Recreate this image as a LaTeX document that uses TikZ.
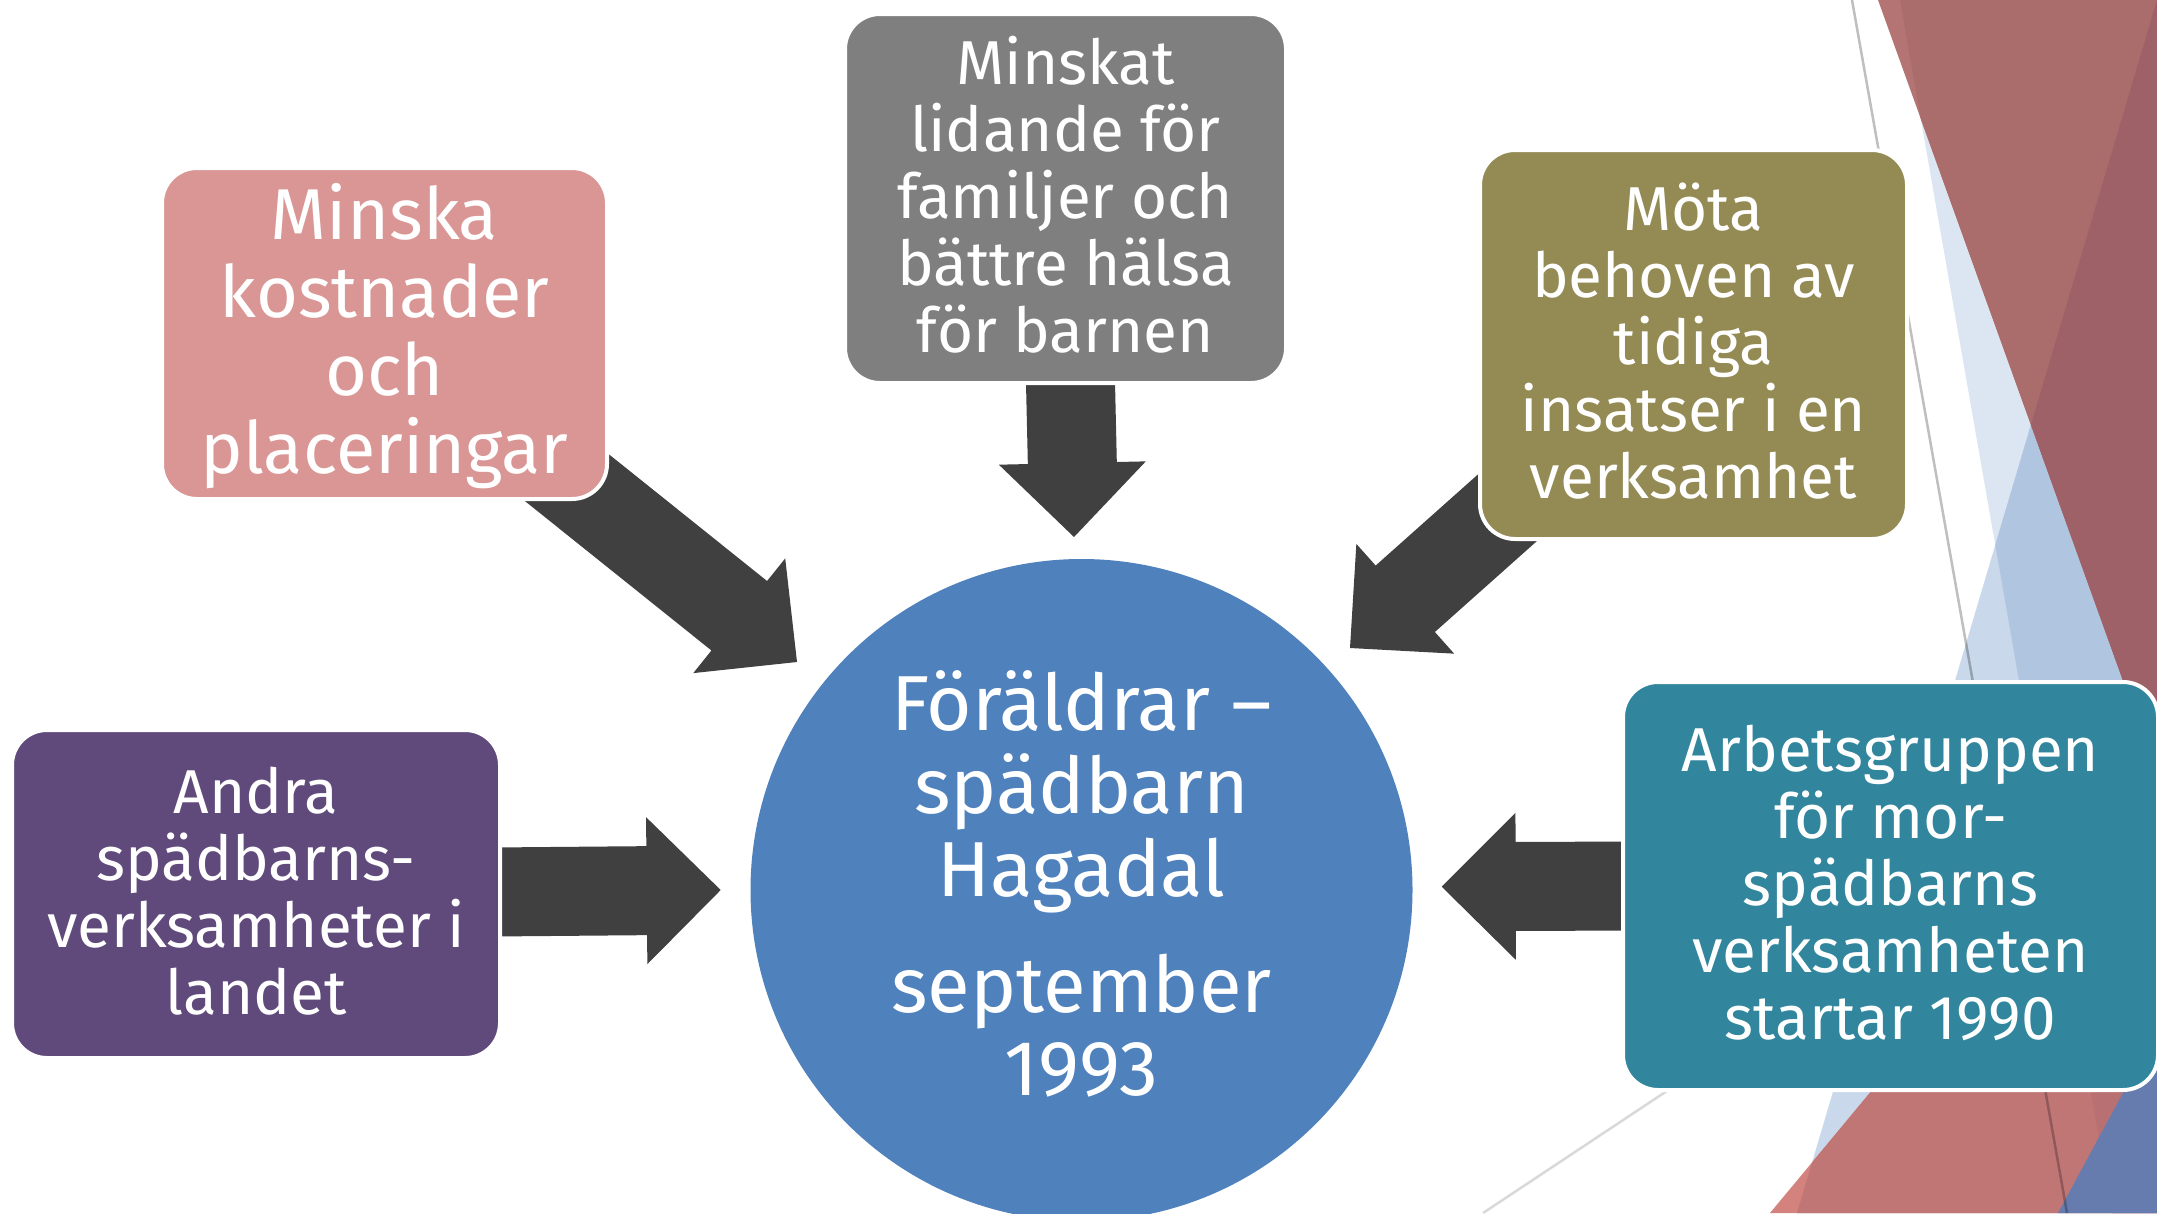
\documentclass[tikz,border=0pt]{standalone}
\usepackage{fontspec}
\setmainfont{Fira Sans}
\definecolor{pinkc}{HTML}{D99694}
\definecolor{grayc}{HTML}{7F7F7F}
\definecolor{olivec}{HTML}{948A54}
\definecolor{purplec}{HTML}{604A7B}
\definecolor{tealc}{HTML}{31859C}
\definecolor{circc}{HTML}{4F81BD}
\definecolor{arrowc}{HTML}{404040}
\definecolor{lbA}{HTML}{DCE6F2}
\definecolor{lbB}{HTML}{C9D8EB}
\definecolor{lbAB}{HTML}{B0C5E0}
\definecolor{rW}{HTML}{B47474}
\definecolor{rA}{HTML}{AB6C6C}
\definecolor{rAB}{HTML}{9E6168}
\definecolor{rbW}{HTML}{D3827D}
\definecolor{rbB}{HTML}{C17676}
\definecolor{rbAB}{HTML}{B97073}
\definecolor{blueD}{HTML}{667CAE}
\newcommand{\pLBa}{(1900,0) -- (2157,0) -- (2157,1213) -- (2112,1213) -- cycle}
\newcommand{\pLBb}{(2157,0) -- (1797,1213) -- (2157,1213) -- cycle}
\newcommand{\pRtop}{(1878,0) -- (2157,0) -- (2157,775) -- cycle}
\newcommand{\pRbot}{(1947,1000) -- (1770,1213) -- (2157,1213) -- (2157,1000) -- cycle}
\newcommand{\blockarrow}[3]{%
  \fill[arrowc, shift={(#1)}, rotate=#2] (-#3,-44.5) -- (-74,-44.5) -- (-74,-73.5) -- (0,0) -- (-74,73.5) -- (-74,44.5) -- (-#3,44.5) -- cycle;}
\tikzset{
  boxnode/.style={rounded corners=35, draw=white, line width=4, inner sep=0},
  boxtext/.style={text=white, align=center, inner sep=0, font=\fontsize{62}{67}\selectfont},
}
\begin{document}
\begin{tikzpicture}[x=1pt,y=-1pt]
\useasboundingbox (0,0) rectangle (2157,1213);
\clip (0,0) rectangle (2157,1213);
\fill[white] (0,0) rectangle (2157,1213);
% background facets
\fill[lbA] \pLBa;
\fill[lbB] \pLBb;
\begin{scope}\clip \pLBa; \fill[lbAB] \pLBb; \end{scope}
\fill[rW] \pRtop;
\begin{scope}\clip \pLBa; \fill[rA] \pRtop; \end{scope}
\begin{scope}\clip \pLBa; \clip \pLBb; \fill[rAB] \pRtop; \end{scope}
\fill[rbW] \pRbot;
\begin{scope}\clip \pLBb; \fill[rbB] \pRbot; \end{scope}
\begin{scope}\clip \pLBa; \clip \pLBb; \fill[rbAB] \pRbot; \end{scope}
\fill[blueD] (2157,1030) -- (2058,1213) -- (2157,1213) -- cycle;
\coordinate (g1a) at (1852,0);
\coordinate (g1b) at (2067,1213);
\draw[black, opacity=0.25, line width=2.5] (g1a) -- (g1b);
\coordinate (g2a) at (1700,1069);
\coordinate (g2b) at (1483,1213);
\draw[black!15, line width=2.5] (g2a) -- (g2b);
% arrows
\coordinate (t1) at (797,662);
\coordinate (t2) at (1074,537);
\coordinate (t3) at (1350,648);
\coordinate (t4) at (720.7,890);
\coordinate (t5) at (1441.7,886.7);
\blockarrow{t1}{-38.7}{330}
\blockarrow{t2}{-88.7}{175}
\blockarrow{t3}{-138.3}{260}
\blockarrow{t4}{0.5}{240}
\blockarrow{t5}{180.2}{200}
% boxes
\node[boxnode, fill=pinkc, minimum width=445, minimum height=331] (pink) at (384.5,333.5) {};
\node[boxtext, font=\fontsize{72}{78}\selectfont, yshift=-3] (pinkt) at (pink.center)
  {Minska\\kostnader\\och\\placeringar};
\node[boxnode, fill=grayc, minimum width=441, minimum height=369] (gray) at (1065.5,198.5) {};
\node[boxtext, yshift=4] (grayt) at (gray.center)
  {Minskat\\lidande för\\familjer och\\bättre hälsa\\för barnen};
\node[boxnode, fill=olivec, minimum width=427, minimum height=389] (olive) at (1693.5,344.5) {};
\node[boxtext, yshift=3] (olivet) at (olive.center)
  {Möta\\behoven av\\tidiga\\insatser i en\\verksamhet};
\node[boxnode, fill=purplec, minimum width=488, minimum height=328] (purple) at (256,894) {};
\node[boxtext, yshift=3] (purplet) at (purple.center)
  {Andra\\spädbarns-\\verksamheter i\\landet};
\node[boxnode, fill=tealc, minimum width=535, minimum height=408] (teal) at (1890.5,886) {};
\node[boxtext, yshift=3] (tealt) at (teal.center)
  {Arbetsgruppen\\för mor-\\spädbarns\\verksamheten\\startar 1990};
% circle
\node[circle, fill=circc, minimum size=662, inner sep=0] (circ) at (1081.5,890) {};
\node[text=white, align=center, inner sep=0, font=\fontsize{78}{83}\selectfont] (circtext) at (1081.5,884)
  {Föräldrar –\\spädbarn\\Hagadal\\[33pt]september\\1993};
\end{tikzpicture}
\end{document}
